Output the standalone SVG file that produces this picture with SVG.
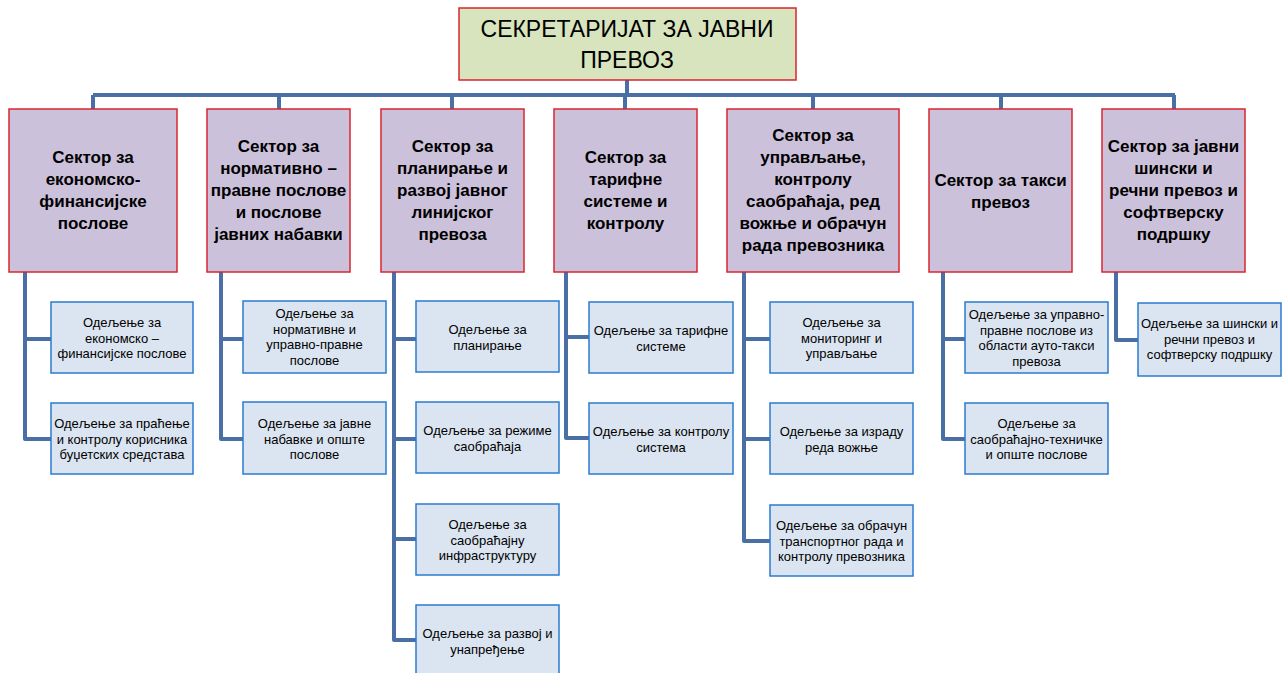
<svg xmlns="http://www.w3.org/2000/svg" width="1283" height="673" viewBox="0 0 1283 673">
<style>
.top{fill:#d7e4bd;stroke:#d9252f;stroke-width:1.5}
.sec{fill:#ccc1da;stroke:#d9252f;stroke-width:1.5}
.dep{fill:#dbe5f1;stroke:#2a7bd0;stroke-width:1.5}
.con{fill:none;stroke:#4a6fa5;stroke-width:4;stroke-linejoin:round}
text{font-family:"Liberation Sans",Arial,sans-serif;fill:#000;text-anchor:middle}
.tt{font-size:23px}
.st{font-size:17px;font-weight:bold}
.dt{font-size:13px}
</style>
<g id="connectors">
<path class="con" d="M627 80V95M93 95H1175M93 95V109M279 95V109M452 95V109M625 95V109M813 95V109M1001 95V109M1174 95V109"/>
<path class="con" d="M25 272V439H51M25 339H51"/>
<path class="con" d="M221 272V439H243M221 339H243"/>
<path class="con" d="M394 272V640H416M394 339H416M394 439H416M394 539H416"/>
<path class="con" d="M566 272V438H589M566 337H589"/>
<path class="con" d="M744 272V541H770M744 339H770M744 439H770"/>
<path class="con" d="M943 272V439H965M943 339H965"/>
<path class="con" d="M1116 272V340H1138"/>
</g>
<g id="top">
<rect class="top" x="459" y="8" width="337" height="72"/>
<text class="tt" x="627" y="37">СЕКРЕТАРИЈАТ ЗА ЈАВНИ</text>
<text class="tt" x="627" y="68">ПРЕВОЗ</text>
</g>
<g id="s1">
<rect class="sec" x="9" y="109" width="168" height="163"/>
<text class="st" x="93"><tspan x="93" y="163">Сектор за</tspan><tspan x="93" y="185">економско-</tspan><tspan x="93" y="207">финансијске</tspan><tspan x="93" y="229">послове</tspan></text>
</g>
<g id="s2">
<rect class="sec" x="207" y="109" width="143" height="163"/>
<text class="st" x="278.5"><tspan x="278.5" y="152">Сектор за</tspan><tspan x="278.5" y="174">нормативно –</tspan><tspan x="278.5" y="196">правне послове</tspan><tspan x="278.5" y="218">и послове</tspan><tspan x="278.5" y="240">јавних набавки</tspan></text>
</g>
<g id="s3">
<rect class="sec" x="381" y="109" width="143" height="163"/>
<text class="st" x="452.5"><tspan x="452.5" y="152">Сектор за</tspan><tspan x="452.5" y="174">планирање и</tspan><tspan x="452.5" y="196">развој јавног</tspan><tspan x="452.5" y="218">линијског</tspan><tspan x="452.5" y="240">превоза</tspan></text>
</g>
<g id="s4">
<rect class="sec" x="554" y="109" width="143" height="163"/>
<text class="st" x="625.5"><tspan x="625.5" y="163">Сектор за</tspan><tspan x="625.5" y="185">тарифне</tspan><tspan x="625.5" y="207">системе и</tspan><tspan x="625.5" y="229">контролу</tspan></text>
</g>
<g id="s5">
<rect class="sec" x="727" y="109" width="172" height="163"/>
<text class="st" x="813"><tspan x="813" y="141">Сектор за</tspan><tspan x="813" y="163">управљање,</tspan><tspan x="813" y="185">контролу</tspan><tspan x="813" y="207">саобраћаја, ред</tspan><tspan x="813" y="229">вожње и обрачун</tspan><tspan x="813" y="251">рада превозника</tspan></text>
</g>
<g id="s6">
<rect class="sec" x="929" y="109" width="143" height="163"/>
<text class="st" x="1000.5"><tspan x="1000.5" y="186">Сектор за такси</tspan><tspan x="1000.5" y="208">превоз</tspan></text>
</g>
<g id="s7">
<rect class="sec" x="1102" y="109" width="143" height="163"/>
<text class="st" x="1173.5"><tspan x="1173.5" y="152">Сектор за јавни</tspan><tspan x="1173.5" y="174">шински и</tspan><tspan x="1173.5" y="196">речни превоз и</tspan><tspan x="1173.5" y="218">софтверску</tspan><tspan x="1173.5" y="240">подршку</tspan></text>
</g>
<g id="d1a">
<rect class="dep" x="51" y="302" width="142" height="71"/>
<text class="dt"><tspan x="122" y="327">Одељење за</tspan><tspan x="122" y="342.5">економско –</tspan><tspan x="122" y="358">финансијске послове</tspan></text>
</g>
<g id="d1b">
<rect class="dep" x="51" y="403" width="142" height="71"/>
<text class="dt"><tspan x="122" y="428">Одељење за праћење</tspan><tspan x="122" y="443.5">и контролу корисника</tspan><tspan x="122" y="459">буџетских средстава</tspan></text>
</g>
<g id="d2a">
<rect class="dep" x="243" y="301" width="143" height="72"/>
<text class="dt"><tspan x="314.5" y="318">Одељење за</tspan><tspan x="314.5" y="333.5">нормативне и</tspan><tspan x="314.5" y="349">управно-правне</tspan><tspan x="314.5" y="364.5">послове</tspan></text>
</g>
<g id="d2b">
<rect class="dep" x="243" y="402" width="143" height="72"/>
<text class="dt"><tspan x="314.5" y="428">Одељење за јавне</tspan><tspan x="314.5" y="443.5">набавке и опште</tspan><tspan x="314.5" y="459">послове</tspan></text>
</g>
<g id="d3a">
<rect class="dep" x="416" y="301" width="143" height="71"/>
<text class="dt"><tspan x="487.5" y="334">Одељење за</tspan><tspan x="487.5" y="349.5">планирање</tspan></text>
</g>
<g id="d3b">
<rect class="dep" x="416" y="402" width="143" height="71"/>
<text class="dt"><tspan x="487.5" y="435">Одељење за режиме</tspan><tspan x="487.5" y="450.5">саобраћаја</tspan></text>
</g>
<g id="d3c">
<rect class="dep" x="416" y="504" width="143" height="71"/>
<text class="dt"><tspan x="487.5" y="529">Одељење за</tspan><tspan x="487.5" y="544.5">саобраћајну</tspan><tspan x="487.5" y="560">инфраструктуру</tspan></text>
</g>
<g id="d3d">
<rect class="dep" x="416" y="605" width="143" height="72"/>
<text class="dt"><tspan x="487.5" y="638">Одељење за развој и</tspan><tspan x="487.5" y="653.5">унапређење</tspan></text>
</g>
<g id="d4a">
<rect class="dep" x="589" y="302" width="144" height="71"/>
<text class="dt"><tspan x="661" y="335">Одељење за тарифне</tspan><tspan x="661" y="350.5">системе</tspan></text>
</g>
<g id="d4b">
<rect class="dep" x="589" y="403" width="144" height="71"/>
<text class="dt"><tspan x="661" y="436">Одељење за контролу</tspan><tspan x="661" y="451.5">система</tspan></text>
</g>
<g id="d5a">
<rect class="dep" x="770" y="302" width="143" height="71"/>
<text class="dt"><tspan x="841.5" y="327">Одељење за</tspan><tspan x="841.5" y="342.5">мониторинг и</tspan><tspan x="841.5" y="358">управљање</tspan></text>
</g>
<g id="d5b">
<rect class="dep" x="770" y="403" width="143" height="71"/>
<text class="dt"><tspan x="841.5" y="436">Одељење за израду</tspan><tspan x="841.5" y="451.5">реда вожње</tspan></text>
</g>
<g id="d5c">
<rect class="dep" x="770" y="505" width="143" height="71"/>
<text class="dt"><tspan x="841.5" y="530">Одељење за обрачун</tspan><tspan x="841.5" y="545.5">транспортног рада и</tspan><tspan x="841.5" y="561">контролу превозника</tspan></text>
</g>
<g id="d6a">
<rect class="dep" x="965" y="302" width="143" height="71"/>
<text class="dt"><tspan x="1036.5" y="319">Одељење за управно-</tspan><tspan x="1036.5" y="334.5">правне послове из</tspan><tspan x="1036.5" y="350">области ауто-такси</tspan><tspan x="1036.5" y="365.5">превоза</tspan></text>
</g>
<g id="d6b">
<rect class="dep" x="965" y="403" width="143" height="71"/>
<text class="dt"><tspan x="1036.5" y="428">Одељење за</tspan><tspan x="1036.5" y="443.5">саобраћајно-техничке</tspan><tspan x="1036.5" y="459">и опште послове</tspan></text>
</g>
<g id="d7a">
<rect class="dep" x="1138" y="303" width="143" height="73"/>
<text class="dt"><tspan x="1209.5" y="328">Одељење за шински и</tspan><tspan x="1209.5" y="343.5">речни превоз и</tspan><tspan x="1209.5" y="359">софтверску подршку</tspan></text>
</g>
</svg>
